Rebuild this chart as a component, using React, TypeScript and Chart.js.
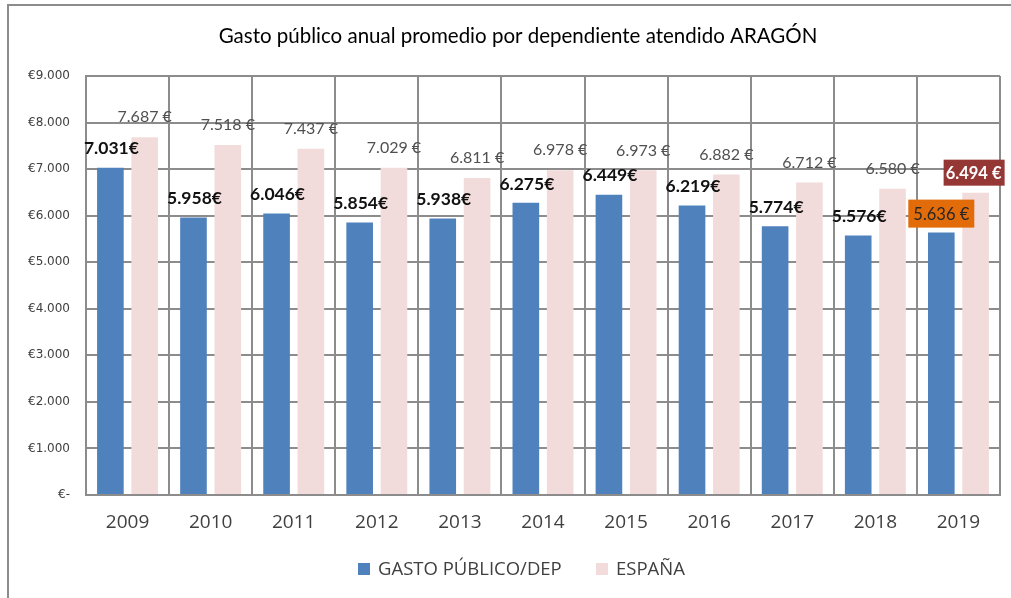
import React, { useEffect, useRef } from "react";
import { Chart, registerables } from "chart.js";

Chart.register(...registerables);

const TITLE = "Gasto público anual promedio por dependiente atendido ARAGÓN";
const YEARS = ["2009", "2010", "2011", "2012", "2013", "2014", "2015", "2016", "2017", "2018", "2019"];
const GASTO_LABEL = "GASTO PÚBLICO/DEP";
const ESPANA_LABEL = "ESPAÑA";
const GASTO = [7031, 5958, 6046, 5854, 5938, 6275, 6449, 6219, 5774, 5576, 5636];
const ESPANA = [7687, 7518, 7437, 7029, 6811, 6978, 6973, 6882, 6712, 6580, 6494];
const Y_MAX = 9000;
const Y_STEP = 1000;

const BLUE = "#4F81BD";
const PINK = "#F2DCDB";
const GRID = "#8C8C8C";

function fmt(v: number): string {
  return Math.round(v).toString().replace(/\B(?=(\d{3})+(?!\d))/g, ".");
}

const decorPlugin = {
  id: "decor",
  beforeDraw(chart: any) {
    const ctx = chart.ctx;
    ctx.save();
    ctx.fillStyle = "#ffffff";
    ctx.fillRect(0, 0, chart.width, chart.height);
    ctx.strokeStyle = GRID;
    ctx.lineWidth = 2;
    ctx.beginPath();
    ctx.moveTo(8, chart.height);
    ctx.lineTo(8, 5);
    ctx.lineTo(chart.width, 5);
    ctx.stroke();
    // title
    ctx.fillStyle = "#000000";
    ctx.font = "20.5px Lato";
    ctx.textAlign = "center";
    ctx.textBaseline = "middle";
    ctx.fillText(TITLE, 518, 36);
    // legend
    const ds = chart.data.datasets;
    ctx.font = "18.5px 'Open Sans'";
    ctx.textAlign = "left";
    const y = 569;
    const items = [
      { x: 358, label: ds[0].label, color: ds[0].backgroundColor },
      { x: 596, label: ds[1].label, color: ds[1].backgroundColor },
    ];
    for (const it of items) {
      ctx.fillStyle = it.color;
      ctx.fillRect(it.x, y - 6, 12, 12);
      ctx.fillStyle = "#404040";
      ctx.fillText(it.label, it.x + 20, y + 1);
    }
    ctx.restore();
  },
  afterDatasetsDraw(chart: any) {
    const ctx = chart.ctx;
    ctx.save();
    ctx.textAlign = "center";
    ctx.textBaseline = "middle";
    const last = YEARS.length - 1;
    // blue labels
    const m0 = chart.getDatasetMeta(0);
    m0.data.forEach((bar: any, i: number) => {
      const v = GASTO[i];
      const cy = bar.y - 19;
      if (i === last) {
        const txt = fmt(v) + " €";
        ctx.font = "16.5px Lato";
        ctx.fillStyle = "#E36C0A";
        ctx.fillRect(bar.x - 33, cy - 14, 66, 28);
        ctx.fillStyle = "#262626";
        ctx.fillText(txt, bar.x, cy + 1);
      } else {
        ctx.font = "bold 17.5px Lato";
        ctx.fillStyle = "#111111";
        ctx.fillText(fmt(v) + "€", bar.x + 1, cy);
      }
    });
    const m1 = chart.getDatasetMeta(1);
    m1.data.forEach((bar: any, i: number) => {
      const v = ESPANA[i];
      const cy = bar.y - 20;
      const txt = fmt(v) + " €";
      if (i === last) {
        ctx.font = "bold 16.5px Lato";
        ctx.fillStyle = "#953735";
        ctx.fillRect(bar.x - 32, cy - 13, 61, 26);
        ctx.fillStyle = "#ffffff";
        ctx.fillText(txt, bar.x - 2, cy + 1);
      } else {
        ctx.font = "16px Lato";
        ctx.fillStyle = "#505050";
        ctx.fillText(txt, bar.x, cy);
      }
    });
    ctx.restore();
  },
};

export default function App() {
  const ref = useRef<HTMLCanvasElement | null>(null);
  useEffect(() => {
    if (!ref.current) return;
    const chart = new Chart(ref.current, {
      type: "bar",
      data: {
        labels: YEARS,
        datasets: [
          {
            label: GASTO_LABEL,
            data: GASTO,
            backgroundColor: BLUE,
            barPercentage: 0.776,
            categoryPercentage: 0.826,
          },
          {
            label: ESPANA_LABEL,
            data: ESPANA,
            backgroundColor: PINK,
            barPercentage: 0.776,
            categoryPercentage: 0.826,
          },
        ],
      },
      options: {
        animation: false,
        responsive: false,
        devicePixelRatio: 1,
        layout: { padding: { left: 0, right: 11, top: 76, bottom: 0 } },
        plugins: {
          legend: { display: false },
          title: { display: false },
          tooltip: { enabled: false },
        },
        scales: {
          x: {
            grid: { color: GRID, lineWidth: 2, drawTicks: false, offset: true },
            border: { color: GRID, width: 2 },
            ticks: {
              color: "#404040",
              font: { family: "'Open Sans'", size: 19 },
              padding: 16,
            },
            afterFit: (s: any) => {
              s.height = 103;
            },
          },
          y: {
            min: 0,
            max: Y_MAX,
            grid: { color: GRID, lineWidth: 2, drawTicks: false },
            border: { color: GRID, width: 2 },
            ticks: {
              stepSize: Y_STEP,
              color: "#404040",
              font: { family: "'DejaVu Sans'", size: 12 },
              padding: 16,
              callback: (v: any) => (Number(v) === 0 ? "€-" : "€" + fmt(Number(v))),
            },
            afterFit: (s: any) => {
              s.width = 86;
            },
          },
        },
      },
      plugins: [decorPlugin],
    });
    return () => chart.destroy();
  }, []);
  return (
    <div style={{ position: "fixed", left: 0, top: 0, width: 1011, height: 598, background: "#fff" }}>
      <canvas ref={ref} width={1011} height={598} />
    </div>
  );
}
